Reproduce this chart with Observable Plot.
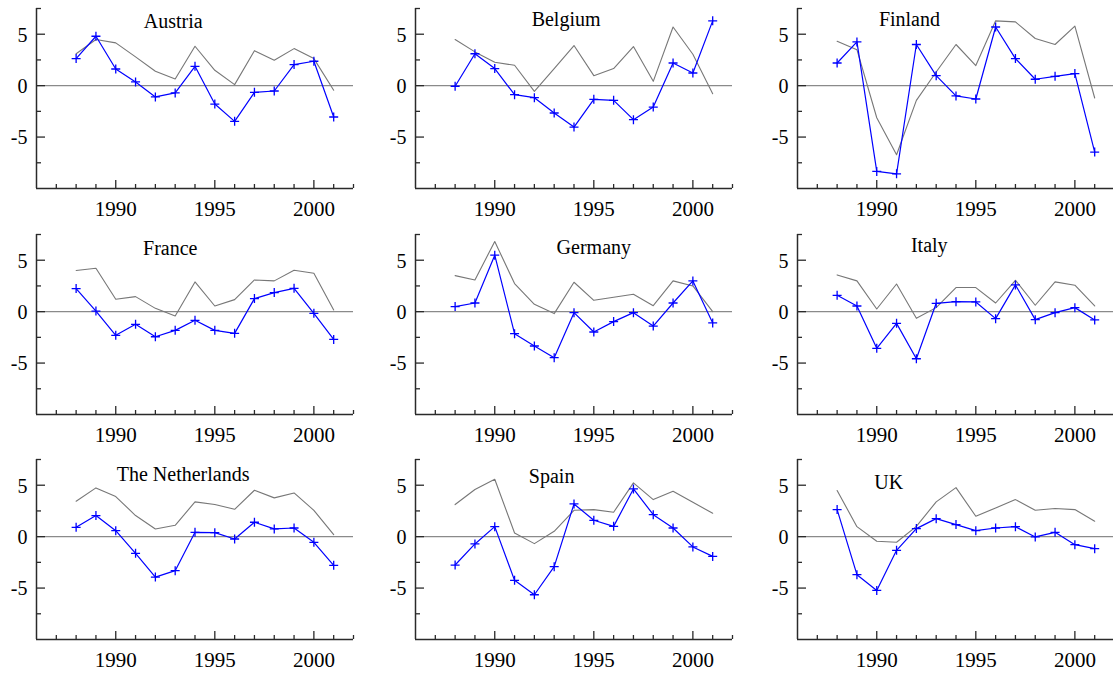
<!DOCTYPE html>
<html><head><meta charset="utf-8">
<script src="https://cdn.jsdelivr.net/npm/d3@7"></script>
<script src="https://cdn.jsdelivr.net/npm/@observablehq/plot@0.6"></script>
<style>
html,body{margin:0;padding:0;background:#fff;overflow:hidden;width:1113px;height:673px}
#chart{position:relative;width:1113px;height:673px;overflow:hidden}
.panel{position:absolute}
.panel text{font-family:'Liberation Serif','Times New Roman',Times,serif}
</style></head><body><div id="chart"></div>
<script>
const years = [1988,1989,1990,1991,1992,1993,1994,1995,1996,1997,1998,1999,2000,2001];
const countries = ["Austria","Belgium","Finland","France","Germany","Italy","The Netherlands","Spain","UK"];

const austriaBlue  = [2.63,4.8,1.62,0.36,-1.1,-0.71,1.88,-1.79,-3.47,-0.65,-0.52,2.05,2.37,-3.05];
const austriaGray  = [3.1,4.48,4.16,2.8,1.4,0.65,3.83,1.49,0.1,3.4,2.47,3.6,2.63,-0.45];
const belgiumBlue  = [-0.06,3.1,1.66,-0.88,-1.17,-2.66,-4.03,-1.33,-1.43,-3.31,-2.08,2.2,1.23,6.3];
const belgiumGray  = [4.48,3.28,2.27,1.98,-0.55,1.66,3.9,0.97,1.66,3.8,0.42,5.7,3.05,-0.78];
const finlandBlue  = [2.2,4.25,-8.34,-8.57,4.0,0.97,-1.0,-1.3,5.7,2.63,0.62,0.91,1.17,-6.46];
const finlandGray  = [4.32,3.5,-3.12,-6.72,-1.43,1.33,4.0,1.95,6.3,6.2,4.58,4.0,5.78,-1.2];
const franceBlue   = [2.24,0.06,-2.3,-1.23,-2.44,-1.82,-0.84,-1.82,-2.11,1.27,1.85,2.27,-0.16,-2.7];
const franceGray   = [4.0,4.22,1.2,1.46,0.32,-0.42,2.89,0.55,1.17,3.08,2.99,4.03,3.73,0.16];
const germanyBlue  = [0.49,0.84,5.49,-2.14,-3.34,-4.48,-0.1,-1.98,-0.97,-0.1,-1.4,0.84,2.99,-1.1];
const germanyGray  = [3.5,3.08,6.82,2.73,0.71,-0.19,2.86,1.1,1.4,1.69,0.58,2.99,2.5,0];
const italyBlue    = [1.59,0.55,-3.57,-1.14,-4.58,0.81,0.97,0.94,-0.68,2.6,-0.78,-0.1,0.39,-0.81];
const italyGray    = [3.57,2.99,0.26,2.69,-0.65,0.39,2.34,2.34,0.84,3.05,0.62,2.89,2.57,0.55];
const nlBlue       = [0.91,2.05,0.58,-1.62,-3.93,-3.31,0.42,0.39,-0.23,1.4,0.75,0.84,-0.55,-2.79];
const nlGray       = [3.44,4.74,3.9,2.05,0.75,1.1,3.38,3.12,2.66,4.51,3.77,4.25,2.56,0.19];
const spainBlue    = [-2.76,-0.71,0.97,-4.25,-5.65,-2.92,3.18,1.59,1.0,4.64,2.14,0.84,-1.0,-1.92];
const spainGray    = [3.12,4.58,5.58,0.36,-0.68,0.52,2.56,2.63,2.37,5.23,3.6,4.42,3.34,2.27];
const ukBlue       = [2.63,-3.7,-5.23,-1.33,0.78,1.75,1.17,0.58,0.84,0.97,-0.03,0.42,-0.78,-1.17];
const ukGray       = [4.48,0.97,-0.45,-0.55,1.0,3.38,4.77,1.98,2.79,3.6,2.56,2.73,2.63,1.5];

const blueSeries = [austriaBlue,belgiumBlue,finlandBlue,franceBlue,germanyBlue,italyBlue,nlBlue,spainBlue,ukBlue];
const graySeries = [austriaGray,belgiumGray,finlandGray,franceGray,germanyGray,italyGray,nlGray,spainGray,ukGray];

const xDomain = [1986, 2002];
const yDomain = [-10, 7.5];
const xMinorTicks = [1987,1988,1989,1991,1992,1993,1994,1996,1997,1998,1999,2001,2002];
const xMajorTicks = [1990,1995,2000];
const yMinorTicks = [-7.5,-2.5,2.5,7.5];
const yMajorTicks = [-5,0,5];

// title anchor (data coordinates) per panel
const titleYear  = [1992.9,1993.6,1991.65,1992.75,1995.0,1992.65,1993.4,1992.87,1990.6];
const titleValue = [6.27,6.4,6.4,6.14,6.23,6.4,6.08,5.79,5.3];

// layout
const colLeft = [0,379,761];
const rowTop = [0,226,451];
const axisColor = "#2a2a2a";
const font = "Liberation Serif";

const plusSymbol = {draw(ctx, size){ const r = Math.sqrt(size/Math.PI); ctx.moveTo(-r,0); ctx.lineTo(r,0); ctx.moveTo(0,-r); ctx.lineTo(0,r);} };
const fmt = d => String(d);

const chart = document.getElementById("chart");
countries.forEach((name, i) => {
  const rows = years.map((year, j) => ({year, blue: blueSeries[i][j], gray: graySeries[i][j]}));
  const p = Plot.plot({
    width: 363, height: 228,
    marginLeft: 36, marginRight: 10, marginTop: 8, marginBottom: 40,
    x: {domain: xDomain, axis: null, label: null},
    y: {domain: yDomain, axis: null, label: null},
    style: {fontFamily: font, background: "transparent", overflow: "visible", color: "#000"},
    marks: [
      Plot.ruleY([0], {stroke: "#8a8a8a", strokeWidth: 1.1}),
      Plot.lineY(rows, {x: "year", y: "gray", stroke: "#777", strokeWidth: 1.1}),
      Plot.lineY(rows, {x: "year", y: "blue", stroke: "#0000ff", strokeWidth: 1.2}),
      Plot.dot(rows, {x: "year", y: "blue", r: 4.5, symbol: plusSymbol, fill: "none", stroke: "#0000ff", strokeWidth: 1.3}),
      Plot.axisX({ticks: xMinorTicks, tickSize: -4, tickPadding: 0, tickFormat: () => "", stroke: axisColor, strokeWidth: 1.3, label: null}),
      Plot.axisX({ticks: xMajorTicks, tickSize: -8, tickPadding: 0, tickFormat: () => "", stroke: axisColor, strokeWidth: 1.3, label: null}),
      Plot.axisY({ticks: yMinorTicks, tickSize: -5, tickPadding: 0, tickFormat: () => "", stroke: axisColor, strokeWidth: 1.3, label: null}),
      Plot.axisY({ticks: yMajorTicks, tickSize: -9, tickPadding: 0, tickFormat: () => "", stroke: axisColor, strokeWidth: 1.3, label: null}),
      Plot.text(xMajorTicks, {x: d => d, y: () => yDomain[0], text: fmt, dy: 12.5, lineAnchor: "top", textAnchor: "middle", fontSize: 21, fontFamily: font, fill: "#000"}),
      Plot.text(yMajorTicks, {x: () => xDomain[0], y: d => d, text: fmt, dx: -9, dy: 1, lineAnchor: "middle", textAnchor: "end", fontSize: 20, fontFamily: font, fill: "#000"}),
      Plot.ruleY([yDomain[0]], {stroke: axisColor, strokeWidth: 1.5}),
      Plot.ruleX([xDomain[0]], {stroke: axisColor, strokeWidth: 1.5}),
      Plot.text([name], {x: () => titleYear[i], y: () => titleValue[i], text: d => d, fontSize: 20, fontFamily: font, fill: "#000", lineAnchor: "middle", textAnchor: "middle"})
    ]
  });
  p.classList.add("panel");
  p.style.left = colLeft[i % 3] + "px";
  p.style.top = rowTop[Math.floor(i / 3)] + "px";
  chart.appendChild(p);
});
</script>
</body></html>
